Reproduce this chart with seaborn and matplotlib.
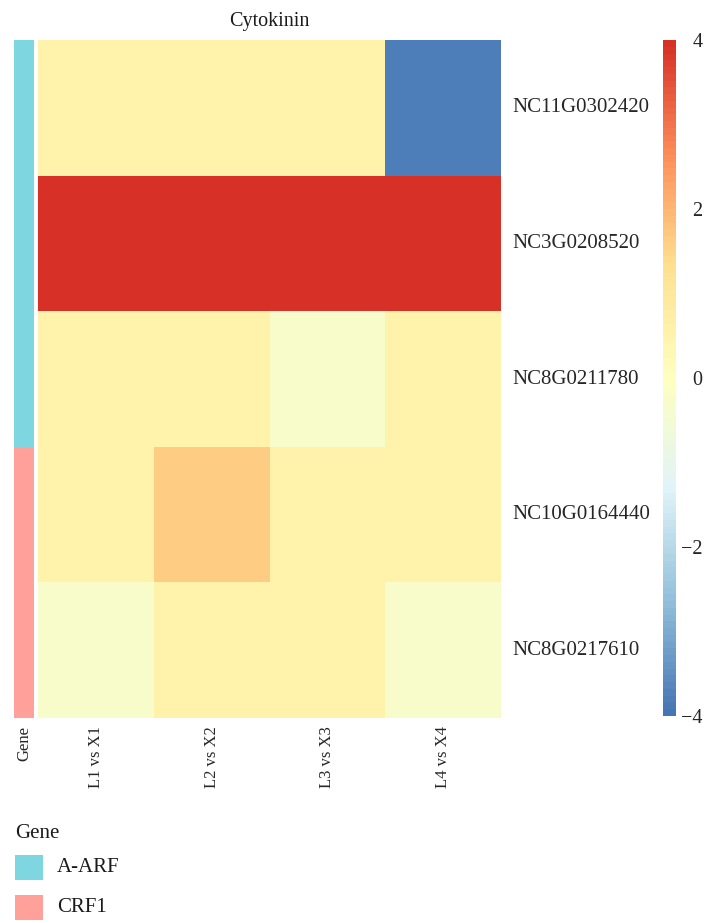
import numpy as np
import pandas as pd
import matplotlib
matplotlib.use("Agg")
import matplotlib.pyplot as plt
from matplotlib.colors import LinearSegmentedColormap, ListedColormap
from matplotlib.patches import Rectangle
import seaborn as sns

# Log2 fold-change of cytokinin-related genes across comparisons
genes = ["NC11G0302420", "NC3G0208520", "NC8G0211780", "NC10G0164440", "NC8G0217610"]
comparisons = ["L1 vs X1", "L2 vs X2", "L3 vs X3", "L4 vs X4"]
l1_vs_x1 = [0.5, 4.0, 0.5, 0.5, -0.3]
l2_vs_x2 = [0.5, 4.0, 0.5, 1.65, 0.5]
l3_vs_x3 = [0.5, 4.0, -0.3, 0.5, 0.5]
l4_vs_x4 = [-3.8, 4.0, 0.5, 0.5, -0.3]
gene_family = ["A-ARF", "A-ARF", "A-ARF", "CRF1", "CRF1"]
family_names = ["A-ARF", "CRF1"]
family_colors = ["#7ED7E0", "#FFA09A"]

values = pd.DataFrame(
    np.column_stack([l1_vs_x1, l2_vs_x2, l3_vs_x3, l4_vs_x4]),
    index=genes, columns=comparisons,
)

sns.set_style("white")
plt.rcParams["font.family"] = ["Liberation Serif", "DejaVu Serif"]
plt.rcParams["text.color"] = "#1a1a1a"

palette = ["#4575B4", "#91BFDB", "#E0F3F8", "#FFFFBF", "#FEE090", "#FC8D59", "#D73027"]
cmap = LinearSegmentedColormap.from_list("rdylbu", palette, N=100)

W, H = 707, 923
fig = plt.figure(figsize=(W / 100, H / 100), dpi=100)

def box(x0, y0, x1, y1):
    return [x0 / W, 1 - y1 / H, (x1 - x0) / W, (y1 - y0) / H]

ax = fig.add_axes(box(38, 40, 501, 718))
cax = fig.add_axes(box(663, 40, 676, 716))
aax = fig.add_axes(box(14, 40, 34, 718))

sns.heatmap(values, ax=ax, cmap=cmap, vmin=-4, vmax=4, cbar_ax=cax, linewidths=0)

# Row labels on the right side, column labels rotated below
ax.yaxis.tick_right()
ax.set_yticks(np.arange(len(genes)) + 0.5)
ax.set_yticklabels(genes, rotation=0, fontsize=15, va="center")
ax.set_xticks(np.arange(len(comparisons)) + 0.5)
ax.set_xticklabels(comparisons, rotation=90, fontsize=12, va="top")
ax.tick_params(axis="both", length=0)
ax.tick_params(axis="y", pad=8)
ax.tick_params(axis="x", pad=6)
ax.set_xlabel("")
ax.set_ylabel("")
ax.set_title("Cytokinin", fontsize=14.5, pad=10)

# Colour bar, labels right-aligned so the digits line up
cax.set_yticks([-4, -2, 0, 2, 4])
cax.set_yticklabels(["\u22124", "\u22122", "0", "2", "4"], ha="right")
cax.tick_params(length=0, labelsize=14.5, pad=19)
for s in cax.spines.values():
    s.set_visible(False)

# Gene family annotation strip
codes = pd.DataFrame({"Gene": [family_names.index(g) for g in gene_family]}, index=genes)
sns.heatmap(codes, ax=aax, cmap=ListedColormap(family_colors), vmin=-0.5, vmax=1.5,
            cbar=False, linewidths=0)
aax.set_yticks([])
aax.set_xticks([0.5])
aax.set_xticklabels(["Gene"], rotation=90, fontsize=12, va="top")
aax.tick_params(axis="x", length=0, pad=6)
aax.set_xlabel("")
aax.set_ylabel("")

# Annotation legend: title followed by one swatch per gene family
fig.text(15 / W, 1 - 833 / H, "Gene", fontsize=15, ha="left", va="center")
for i, (name, color) in enumerate(zip(family_names, family_colors)):
    top = 855 + 40 * i
    fig.patches.append(Rectangle((15 / W, 1 - (top + 25) / H), 28 / W, 25 / H,
                                 transform=fig.transFigure, facecolor=color,
                                 edgecolor="none"))
    fig.text(57 / W, 1 - (top + 12.5) / H, name, fontsize=15, ha="left", va="center")

fig.savefig("out.png", dpi=100, facecolor="white")
